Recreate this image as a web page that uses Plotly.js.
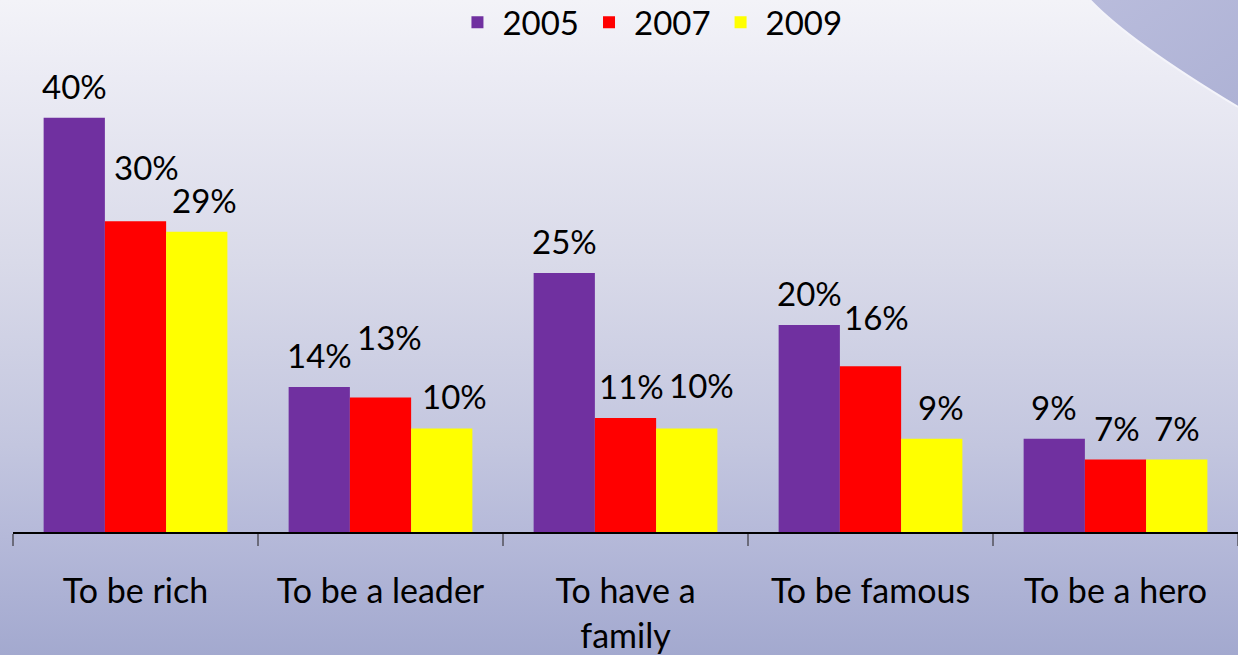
<!DOCTYPE html>
<html>
<head>
<meta charset="utf-8">
<script src="https://cdn.plot.ly/plotly-3.0.1.min.js"></script>
<style>
  html, body { margin: 0; padding: 0; }
  body {
    width: 1238px; height: 655px; overflow: hidden; position: relative;
    background: linear-gradient(to bottom, #f3f3f8 0%, #ebebf4 12%, #d9dae9 40%, #c3c6df 68%, #b5b9d9 82%, #a3a9cf 100%);
  }
  #swoosh { position: absolute; left: 0; top: 0; }
  #chart { position: absolute; left: 0; top: 0; width: 1238px; height: 655px; }
</style>
</head>
<body>
<svg id="swoosh" width="1238" height="655">
  <defs>
    <linearGradient id="sw" x1="0" y1="0" x2="1" y2="1">
      <stop offset="0" stop-color="#b9bcdc"/>
      <stop offset="1" stop-color="#aeb2d5"/>
    </linearGradient>
  </defs>
  <path d="M1090,0 Q1130,42 1238,107 L1238,0 Z" fill="url(#sw)"/>
  <path d="M1090,0 Q1130,42 1238,107" fill="none" stroke="#f4f4fa" stroke-width="2"/>
</svg>
<div id="chart"></div>
<script>
// survey answers, percent
let categories = ['To be rich', 'To be a leader', 'To have a<br>family', 'To be famous', 'To be a hero'];
let years = ['2005', '2007', '2009'];
let values2005 = [40, 14, 25, 20, 9];
let values2007 = [30, 13, 11, 16, 7];
let values2009 = [29, 10, 10, 9, 7];
let colors = ['#7030a0', '#ff0000', '#ffff00'];

let series = [values2005, values2007, values2009];

// label placement tweaks (px) so labels don't bump into each other, like the original
let nudgeX = [[0, 0, 0, 0, 0], [11, 9, 6, 6, 1], [8, 13, 15, 9, 0]];
let nudgeUp = [[0, 0, 0, 0, 0], [22, 28, 0, 17, 0], [0, 0, 11, 0, 0]];

let W = 1238, H = 655;
let margin = {l: 13, r: 0, t: 66, b: 123};
let bargap = 0.25;
let fontFam = 'Lato, "Open Sans", sans-serif';

// bar width in px, used to shift the value labels over each bar
let catW = (W - margin.l - margin.r) / categories.length;
let barPx = catW * (1 - bargap) / series.length;

let traces = [];
let labels = [];
for (let s = 0; s < series.length; s++) {
    traces.push({
        type: 'bar',
        name: years[s],
        x: categories,
        y: series[s],
        marker: {color: colors[s]},
        hoverinfo: 'none'
    });
    for (let j = 0; j < categories.length; j++) {
        labels.push({
            x: categories[j],
            y: series[s][j],
            text: series[s][j] + '%',
            xshift: (s - 1) * barPx + nudgeX[s][j],
            yshift: 10 + nudgeUp[s][j],
            yanchor: 'bottom',
            showarrow: false,
            font: {family: fontFam, size: 33, color: '#000'}
        });
    }
}

let layout = {
    width: W,
    height: H,
    margin: margin,
    paper_bgcolor: 'rgba(0,0,0,0)',
    plot_bgcolor: 'rgba(0,0,0,0)',
    barmode: 'group',
    bargap: bargap,
    bargroupgap: 0,
    font: {family: fontFam, size: 33, color: '#000'},
    showlegend: true,
    legend: {
        orientation: 'h',
        xref: 'container', yref: 'container',
        x: 0.525, xanchor: 'center',
        y: 0.966, yanchor: 'middle',
        itemwidth: 40,
        bgcolor: 'rgba(0,0,0,0)',
        font: {family: fontFam, size: 33, color: '#000'}
    },
    xaxis: {
        type: 'category',
        showline: true,
        linecolor: '#000',
        linewidth: 1.5,
        ticks: 'outside',
        tickson: 'boundaries',
        ticklen: 12,
        tickcolor: '#6b6b7b',
        tickwidth: 1.5,
        showgrid: false,
        tickfont: {family: fontFam, size: 34, color: '#000'},
        ticklabelstandoff: 29,
        fixedrange: true
    },
    yaxis: {
        range: [0, 45],
        visible: false,
        showgrid: false,
        zeroline: false,
        fixedrange: true
    },
    annotations: labels
};

Plotly.newPlot('chart', traces, layout, {displayModeBar: false, staticPlot: true});
</script>
</body>
</html>
